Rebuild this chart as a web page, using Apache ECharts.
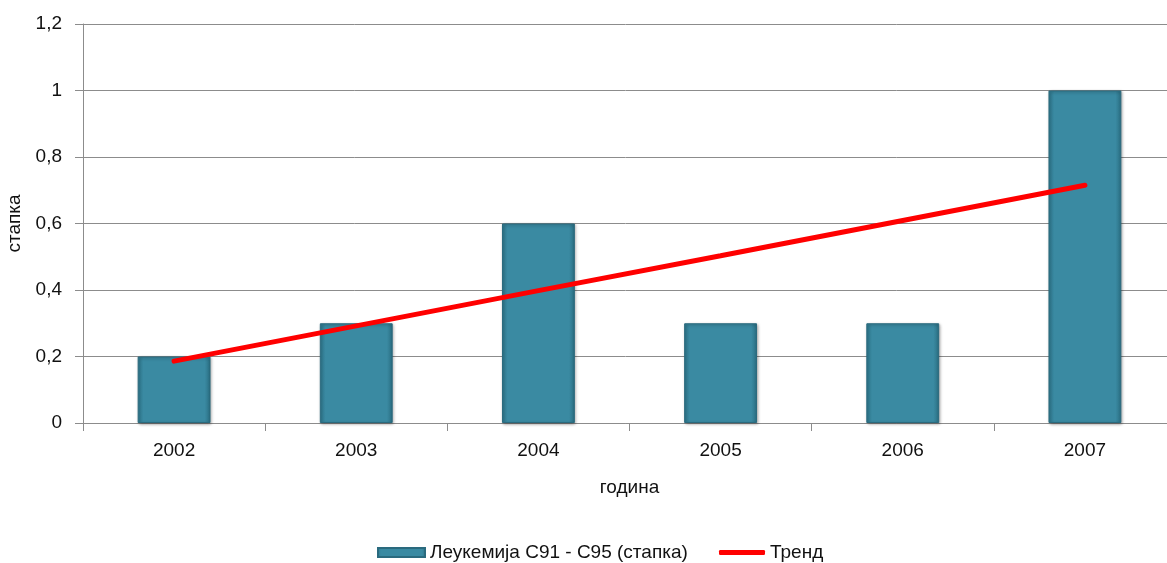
<!DOCTYPE html>
<html>
<head>
<meta charset="utf-8">
<script src="https://cdn.jsdelivr.net/npm/echarts@6/dist/echarts.min.js"></script>
<style>
html,body{margin:0;padding:0;background:#fff;}
#chart{width:1167px;height:563px;}
</style>
</head>
<body>
<div id="chart"></div>
<script>
const categories = ['2002','2003','2004','2005','2006','2007'];
const leukemiaValues = [0.2, 0.3, 0.6, 0.3, 0.3, 1.0];
const trendValues = [0.186, 0.292, 0.398, 0.503, 0.609, 0.715];
const seriesNames = ['Леукемија C91 - C95 (стапка)', 'Тренд'];

const chart = echarts.init(document.getElementById('chart'));
const fontFamily = '"Liberation Sans", Arial, sans-serif';
const txt = {fontSize: 19, color: '#111', fontFamily: fontFamily};
chart.setOption({
  animation: false,
  textStyle: {fontFamily: fontFamily},
  grid: {left: 83, top: 24, width: 1093, height: 399, containLabel: false, outerBoundsMode: 'none'},
  legend: [
    {
      left: 372, top: 538,
      data: [{name: seriesNames[0], icon: 'rect'}],
      itemWidth: 47, itemHeight: 9,
      textStyle: txt
    },
    {
      left: 714, top: 538,
      data: [{name: seriesNames[1], icon: 'roundRect'}],
      itemWidth: 46, itemHeight: 5,
      textStyle: txt
    }
  ],
  xAxis: {
    type: 'category',
    data: categories,
    name: 'година',
    nameLocation: 'middle',
    nameGap: 55,
    nameTextStyle: txt,
    axisLine: {lineStyle: {color: '#8c8c8c'}},
    axisTick: {show: true, length: 8, lineStyle: {color: '#8c8c8c'}},
    axisLabel: Object.assign({}, txt, {margin: 18})
  },
  yAxis: {
    type: 'value',
    min: 0, max: 1.2, interval: 0.2,
    name: 'стапка',
    nameLocation: 'middle',
    nameGap: 56,
    nameTextStyle: txt,
    axisLine: {show: true, lineStyle: {color: '#8c8c8c'}},
    axisTick: {show: true, length: 8, lineStyle: {color: '#8c8c8c'}},
    splitLine: {lineStyle: {color: '#8c8c8c'}},
    axisLabel: Object.assign({}, txt, {
      margin: 21,
      formatter: v => (Math.round(v * 10) / 10).toString().replace('.', ',')
    })
  },
  series: [
    {
      name: seriesNames[0],
      type: 'bar',
      data: leukemiaValues,
      barWidth: '40%',
      itemStyle: {
        color: new echarts.graphic.LinearGradient(0, 0, 1, 0, [
          {offset: 0, color: '#2f7a90'},
          {offset: 0.08, color: '#3a8aa2'},
          {offset: 0.92, color: '#3a8aa2'},
          {offset: 1, color: '#2a6e82'}
        ]),
        borderColor: '#2a6a7e',
        borderWidth: 1,
        shadowColor: 'rgba(0,0,0,0.35)',
        shadowBlur: 3,
        shadowOffsetX: 1,
        shadowOffsetY: 1
      },
      z: 2
    },
    {
      name: seriesNames[1],
      type: 'line',
      data: trendValues,
      symbol: 'none',
      lineStyle: {color: '#ff0000', width: 5, cap: 'round'},
      itemStyle: {color: '#ff0000'},
      z: 3
    }
  ]
});
</script>
</body>
</html>
